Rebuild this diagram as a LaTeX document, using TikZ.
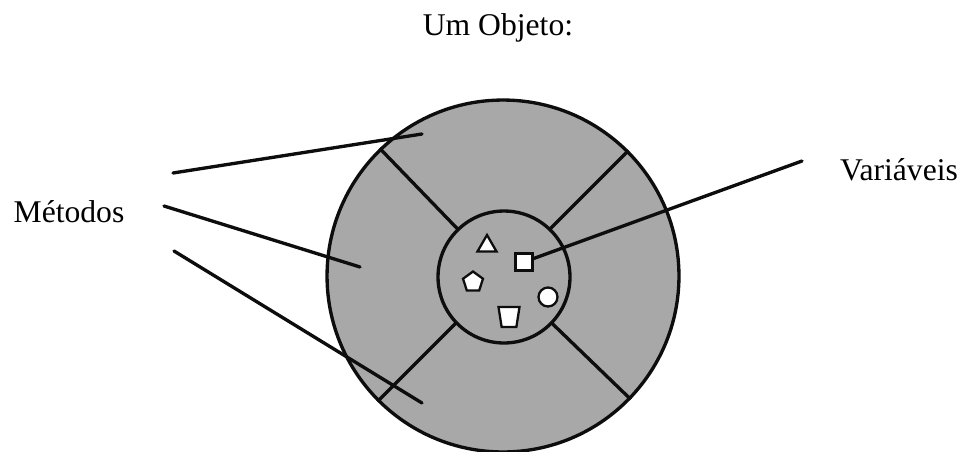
\documentclass[tikz,border=0pt]{standalone}
\usepackage{fontspec}
\setmainfont{Liberation Serif}
\usetikzlibrary{positioning, shapes.geometric}
\definecolor{ObjFill}{gray}{0.66}
\definecolor{ObjLine}{gray}{0.05}
\tikzset{
    objcircle/.style={circle, draw=ObjLine, fill=ObjFill, line width=1.9pt, inner sep=0pt},
    varshape/.style={draw=ObjLine, fill=white, line width=1.3pt, inner sep=0pt},
    label/.style={font=\fontsize{18}{21}\selectfont, text=black},
    pointer/.style={line width=1.9pt, draw=ObjLine, line cap=round},
    divider/.style={line width=1.9pt, draw=ObjLine}
}
\begin{document}
\begin{tikzpicture}[x=0.02cm, y=0.02cm]
    \useasboundingbox (0,0) rectangle (963,451);

    % --- TITLE ---
    \node[label] (title) at (498, 423) {Um Objeto:};

    % --- OBJECT ---
    \node[objcircle, minimum size=7.04cm] (obj) at (503, 175) {};
    \foreach \a in {45, 134, 225, 316}
        \draw[divider] (obj.center) ++(\a:66) -- (obj.\a);
    \node[objcircle, minimum size=2.64cm] (nucleo) at (504, 174) {};

    % --- VARIABLES ---
    \node[varshape, regular polygon, regular polygon sides=3, minimum size=0.44cm] (tri) at (487, 205) {};
    \node[varshape, rectangle, minimum size=0.34cm] (sq) at (524, 189) {};
    \node[varshape, regular polygon, regular polygon sides=5, minimum size=0.42cm] (pent) at (473, 169) {};
    \node[varshape, circle, minimum size=0.38cm] (circ) at (548, 154) {};
    \node[varshape, trapezium, inner sep=1pt, trapezium stretches=true, trapezium left angle=78, trapezium right angle=78, minimum width=0.42cm, minimum height=0.4cm, shape border rotate=180] (trap) at (509, 134) {};

    % --- LABELS ---
    \node[label] (met) at (69, 239) {Métodos};
    \node[label] (var) at (899, 281) {Variáveis};

    % --- POINTERS ---
    \coordinate (m1a) at (173, 278); \coordinate (m1b) at (422, 317);
    \coordinate (m2a) at (164, 245); \coordinate (m2b) at (360, 184);
    \coordinate (m3a) at (174, 200); \coordinate (m3b) at (422, 48);
    \coordinate (v1) at (802, 290);
    \draw[pointer] (m1a) -- (m1b);
    \draw[pointer] (m2a) -- (m2b);
    \draw[pointer] (m3a) -- (m3b);
    \draw[pointer] (v1) -- (sq);
\end{tikzpicture}
\end{document}
